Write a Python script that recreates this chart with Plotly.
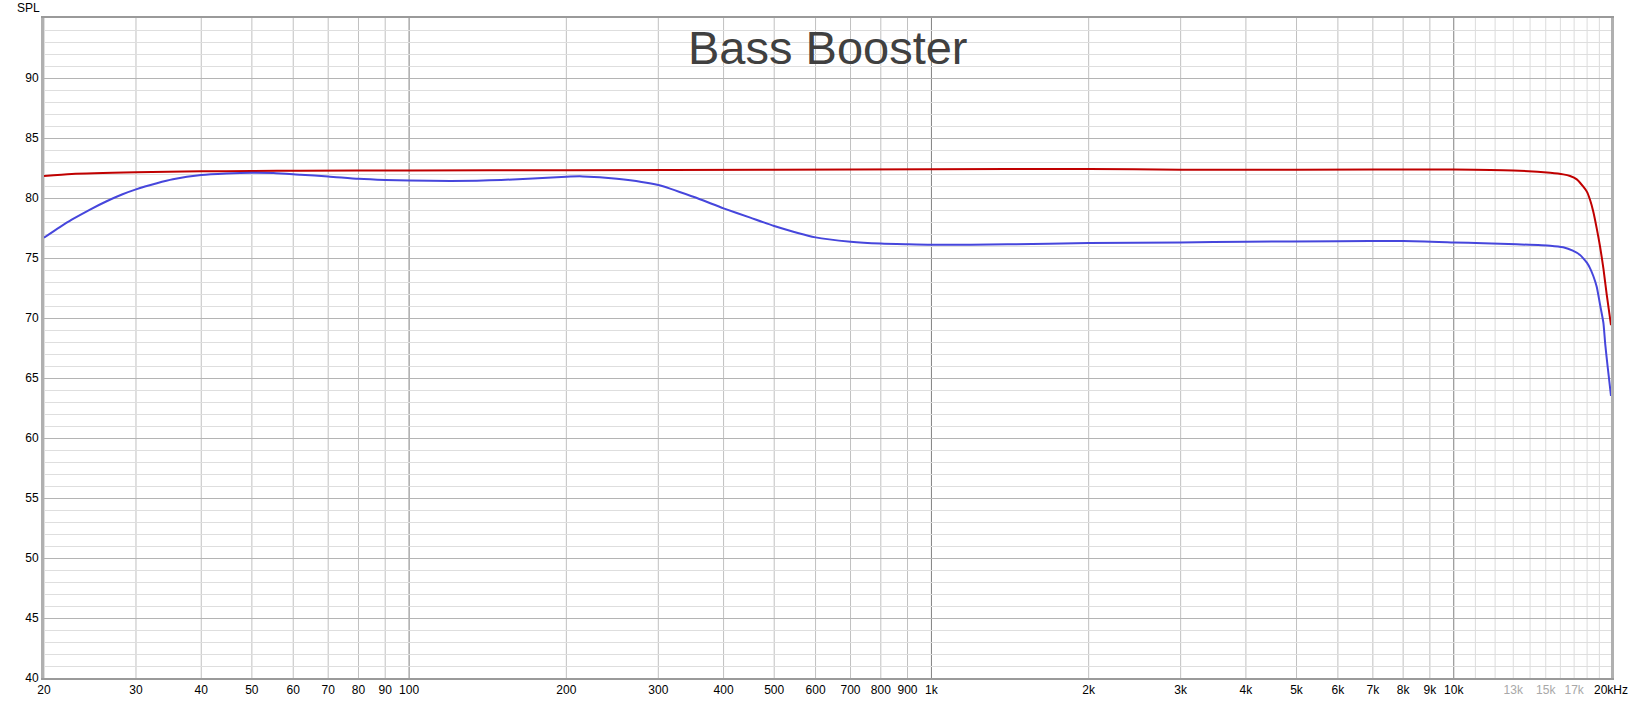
import numpy as np
import plotly.graph_objects as go

# ---- data ----
freq_red = [20, 22.6, 30, 40, 50, 62, 100, 200, 500, 1000, 2000, 3000, 5000, 10000,
            13000, 15300, 16200, 16700, 17200, 17700, 17980, 18240, 18500, 18780, 19060,
            19340, 19630, 20000]
spl_red = [81.83, 82.0, 82.14, 82.22, 82.25, 82.28, 82.3, 82.32, 82.35, 82.4, 82.42, 82.36, 82.36,
           82.38, 82.3, 82.1, 81.97, 81.83, 81.55, 80.94, 80.53, 79.83, 78.86, 77.47, 75.94,
           74.14, 71.92, 69.4]

freq_blue = [20, 21.45, 22.6, 24.5, 26.3, 28.2, 30, 32.9, 35.3, 40, 44.7, 50, 55, 62, 70, 80, 90, 100,
             120, 150, 200, 215, 250, 300, 350, 400, 450, 500, 600, 700, 800, 900, 1000, 1400, 2000,
             3000, 4000, 6000, 8000, 10000, 11400, 13200, 15300, 16200, 16900, 17450, 17700, 17980,
             18240, 18500, 18780, 19060, 19340, 19500, 19700, 20000]
spl_blue = [76.69, 77.57, 78.19, 79.04, 79.71, 80.29, 80.72, 81.23, 81.56, 81.92, 82.05, 82.11, 82.08,
            81.94, 81.8, 81.6, 81.5, 81.45, 81.42, 81.5, 81.78, 81.8, 81.6, 81.08, 80.1, 79.14, 78.36,
            77.67, 76.72, 76.36, 76.2, 76.14, 76.1, 76.14, 76.25, 76.3, 76.36, 76.4, 76.42, 76.3,
            76.22, 76.14, 76.03, 75.89, 75.61, 75.25, 74.97, 74.61, 74.14, 73.5, 72.6, 71.1, 69.6,
            67.8, 66.0, 63.5]

tick_freqs = [20, 30, 40, 50, 60, 70, 80, 90, 100, 200, 300, 400, 500, 600, 700, 800, 900,
              1000, 2000, 3000, 4000, 5000, 6000, 7000, 8000, 9000, 10000, 13000, 15000, 17000, 20000]
tick_labels = ["20", "30", "40", "50", "60", "70", "80", "90", "100", "200", "300", "400", "500",
               "600", "700", "800", "900", "1k", "2k", "3k", "4k", "5k", "6k", "7k", "8k", "9k",
               "10k", "13k", "15k", "17k", "20kHz"]
faint_labels = ["13k", "15k", "17k"]

grid_mid = [20, 30, 40, 50, 60, 70, 80, 90, 200, 300, 400, 500, 600, 700, 800, 900,
            2000, 3000, 4000, 5000, 6000, 7000, 8000, 9000]
grid_dark = [100, 1000, 10000]
grid_light = [11000, 12000, 13000, 14000, 15000, 16000, 17000, 18000, 19000]

y_ticks = [40, 45, 50, 55, 60, 65, 70, 75, 80, 85, 90]

# ---- figure ----
fig = go.Figure()
fig.add_trace(go.Scatter(x=freq_red, y=spl_red, mode="lines",
                         line=dict(color="#c00000", width=2, shape="spline", smoothing=0.6),
                         showlegend=False, hoverinfo="skip"))
fig.add_trace(go.Scatter(x=freq_blue, y=spl_blue, mode="lines",
                         line=dict(color="#4646dc", width=2, shape="spline", smoothing=0.6),
                         showlegend=False, hoverinfo="skip"))

ticktext = [f"<span style='color:#a8a8a8'>{t}</span>" if t in faint_labels else t for t in tick_labels]

shapes = []
for f in grid_light:
    shapes.append(dict(type="line", xref="x", yref="paper", x0=f, x1=f, y0=0, y1=1,
                       line=dict(color="#dcdcdc", width=1), layer="between"))
for f in grid_mid:
    shapes.append(dict(type="line", xref="x", yref="paper", x0=f, x1=f, y0=0, y1=1,
                       line=dict(color="#c0c0c0", width=1), layer="between"))
for f in grid_dark:
    shapes.append(dict(type="line", xref="x", yref="paper", x0=f, x1=f, y0=0, y1=1,
                       line=dict(color="#808080", width=1), layer="between"))

fig.update_layout(
    width=1633, height=703,
    margin=dict(l=44, r=22, t=18, b=25, pad=0),
    paper_bgcolor="white", plot_bgcolor="white",
    font=dict(family="Liberation Sans, Arial, sans-serif", size=12, color="black"),
    shapes=shapes,
    xaxis=dict(type="log", range=[np.log10(20), np.log10(20000)], automargin=False,
               tickmode="array", tickvals=tick_freqs, ticktext=ticktext,
               showgrid=False, zeroline=False, ticks="", ticklen=0,
               showline=True, linecolor="#9a9a9a", linewidth=2, mirror=True,
               tickfont=dict(size=12, color="black")),
    yaxis=dict(range=[40, 95], tickmode="array", tickvals=y_ticks, automargin=False,
               showgrid=True, gridcolor="#b4b4b4", gridwidth=1,
               minor=dict(dtick=1, tick0=40, showgrid=True, gridcolor="#dedede", gridwidth=1, ticklen=0),
               zeroline=False, ticks="", ticklen=0,
               showline=True, linecolor="#b0b0b0", linewidth=3, mirror=True,
               tickfont=dict(size=12, color="black")),
    annotations=[
        dict(text="Bass Booster", xref="paper", yref="paper", x=0.5, y=0.955,
             xanchor="center", yanchor="middle", showarrow=False,
             font=dict(family="Liberation Sans, Arial, sans-serif", size=47, color="#404040")),
        dict(text="SPL", xref="paper", yref="paper", x=-0.0015, y=1.0, yshift=10,
             xanchor="right", yanchor="middle", showarrow=False,
             font=dict(family="Liberation Sans, Arial, sans-serif", size=12, color="black")),
    ],
)

fig.write_html("out.html", config={"displayModeBar": False},
               post_script="document.body.style.margin='0';document.body.style.overflow='hidden';")
